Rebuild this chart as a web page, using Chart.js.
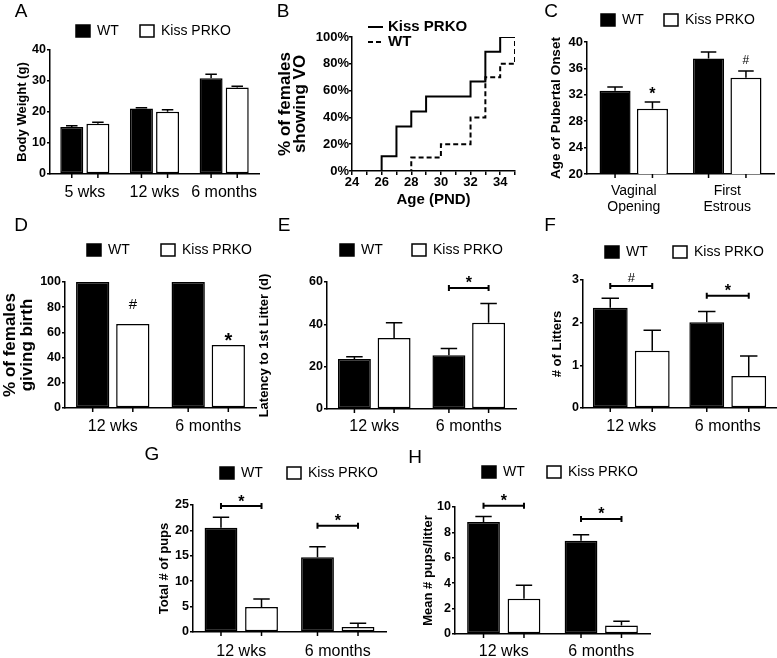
<!DOCTYPE html>
<html>
<head>
<meta charset="utf-8">
<script src="https://cdn.jsdelivr.net/npm/chart.js@4.4.1/dist/chart.umd.min.js"></script>
<style>
  html, body { margin: 0; padding: 0; background: #fff; }
  #fig { position: relative; width: 777px; height: 658px; overflow: hidden; }
  #fig canvas { position: absolute; left: 0; top: 0; }
</style>
</head>
<body>
<div id="fig">
  <canvas id="panelA" width="777" height="658"></canvas>
  <canvas id="panelB" width="777" height="658"></canvas>
  <canvas id="panelC" width="777" height="658"></canvas>
  <canvas id="panelD" width="777" height="658"></canvas>
  <canvas id="panelE" width="777" height="658"></canvas>
  <canvas id="panelF" width="777" height="658"></canvas>
  <canvas id="panelG" width="777" height="658"></canvas>
  <canvas id="panelH" width="777" height="658"></canvas>
</div>
<script>
// A - peso corporal
const ageGroups = ['5 wks', '12 wks', '6 months'];
const wtWeight = [15.2, 21.1, 30.9];
const wtWeightSem = [0.4, 0.3, 1.3];
const koWeight = [16.2, 20.1, 27.9];
const koWeightSem = [0.5, 0.6, 0.4];

// B - apertura vaginal acumulada (dias PND / % de hembras)
const koVoDay = [24, 26, 27, 28, 29, 32, 33, 34, 35];
const koVoPct = [0, 11.1, 33.3, 44.4, 55.6, 66.7, 88.9, 100, 100];
const wtVoDay = [24, 28, 30, 32, 33, 34, 35];
const wtVoPct = [0, 10, 20, 40, 70, 80, 100];

// C - edad de inicio puberal
const pubertyMarkers = [['Vaginal', 'Opening'], ['First', 'Estrous']];
const wtPubertyAge = [32.6, 37.5];
const wtPubertySem = [0.6, 1.0];
const koPubertyAge = [29.9, 34.6];
const koPubertySem = [1.0, 1.0];
const pubertySig = ['*', '#'];

// D..H - fertilidad
const matingAges = ['12 wks', '6 months'];
const wtBirthPct = [100, 100];
const koBirthPct = [66.7, 50];
const birthSig = ['#', '*'];

const wtLatency = [23.6, 25.4];
const wtLatencySem = [1.1, 3.2];
const koLatency = [33.6, 40.8];
const koLatencySem = [7.2, 9.0];
const latencySig = [null, '*'];
const latencySigLevel = [null, 57.2];

const wtLitters = [2.35, 2.01];
const wtLittersSem = [0.22, 0.25];
const koLitters = [1.34, 0.75];
const koLittersSem = [0.48, 0.47];
const littersSig = ['#', '*'];
const littersSigLevel = [2.86, 2.63];

const wtPups = [20.5, 14.7];
const wtPupsSem = [2.1, 2.1];
const koPups = [4.9, 1.0];
const koPupsSem = [1.6, 0.7];
const pupsSig = ['*', '*'];
const pupsSigLevel = [24.8, 20.9];

const wtPupsLitter = [8.82, 7.35];
const wtPupsLitterSem = [0.44, 0.47];
const koPupsLitter = [2.78, 0.66];
const koPupsLitterSem = [1.05, 0.34];
const pupsLitterSig = ['*', '*'];
const pupsLitterSigLevel = [10.1, 9.06];

const W = 777, H = 658;
const FONT = "'Liberation Sans', Arial, Helvetica, sans-serif";
Chart.defaults.font.family = FONT;
Chart.defaults.color = '#000';

// centra el glifo en cy (el * queda alto en su caja)
function drawSymbol(ctx, s, x, cy, font) {
    ctx.font = font;
    ctx.textAlign = 'center';
    ctx.textBaseline = 'alphabetic';
    const m = ctx.measureText(s);
    ctx.fillText(s, x, cy + (m.actualBoundingBoxAscent - m.actualBoundingBoxDescent) / 2);
}

// Estilo Prism: barras de error, leyenda, letra del panel, corchetes
const prismDecor = {
    id: 'prism',
    afterDatasetsDraw(chart, args, o) {
        const ctx = chart.ctx, ys = chart.scales.y;
        ctx.save();
        ctx.strokeStyle = '#000';
        ctx.lineWidth = 1.5;
        (o.errors || []).forEach((sem, di) => {
            if (!sem) return;
            const vals = chart.data.datasets[di].data;
            chart.getDatasetMeta(di).data.forEach((bar, i) => {
                const top = ys.getPixelForValue(vals[i] + sem[i]);
                const half = bar.width * 0.25;
                ctx.beginPath();
                ctx.moveTo(bar.x, bar.y);
                ctx.lineTo(bar.x, top);
                ctx.moveTo(bar.x - half, top);
                ctx.lineTo(bar.x + half, top);
                ctx.stroke();
            });
        });
        ctx.restore();
    },
    afterDraw(chart, args, o) {
        const ctx = chart.ctx, ys = chart.scales.y, area = chart.chartArea;
        ctx.save();
        ctx.fillStyle = '#000';
        ctx.strokeStyle = '#000';
        ctx.lineWidth = 1.5;

        if (o.letter) {
            ctx.font = '19px ' + FONT;
            ctx.textAlign = 'center';
            ctx.textBaseline = 'middle';
            ctx.fillText(o.letter.text, o.letter.x, o.letter.y);
        }

        if (o.legend) {
            const lg = o.legend;
            lg.items.forEach(it => {
                const ds = chart.data.datasets[it.dataset];
                ctx.font = lg.font;
                ctx.textAlign = 'left';
                ctx.textBaseline = 'middle';
                if (lg.lines) {
                    ctx.save();
                    ctx.lineWidth = 2;
                    ctx.setLineDash(ds.borderDash || []);
                    ctx.beginPath();
                    ctx.moveTo(it.x, it.y);
                    ctx.lineTo(it.x + 15, it.y);
                    ctx.stroke();
                    ctx.restore();
                    ctx.fillText(ds.label, it.x + 20, it.y);
                } else {
                    ctx.fillStyle = ds.backgroundColor;
                    ctx.fillRect(it.x, it.y - 6, 14, 12);
                    ctx.strokeRect(it.x, it.y - 6, 14, 12);
                    ctx.fillStyle = '#000';
                    ctx.fillText(ds.label, it.x + 21, it.y);
                }
            });
        }

        if (o.barTicks) {
            chart.data.datasets.forEach((ds, di) => {
                chart.getDatasetMeta(di).data.forEach(bar => {
                    ctx.beginPath();
                    ctx.moveTo(bar.x, area.bottom);
                    ctx.lineTo(bar.x, area.bottom + 4);
                    ctx.stroke();
                });
            });
        }

        if (o.marks) {
            const m = o.marks;
            const ds = chart.data.datasets[m.dataset];
            const sem = o.errors && o.errors[m.dataset];
            chart.getDatasetMeta(m.dataset).data.forEach((bar, i) => {
                const s = m.labels[i];
                if (!s) return;
                const v = ds.data[i] + (sem ? sem[i] : 0);
                drawSymbol(ctx, s, bar.x, ys.getPixelForValue(v) - m.gaps[i], o.symbolFonts[s]);
            });
        }

        if (o.brackets) {
            const b = o.brackets;
            ctx.lineWidth = 2;
            b.levels.forEach((lv, i) => {
                if (lv == null) return;
                const a = chart.getDatasetMeta(0).data[i];
                const c = chart.getDatasetMeta(1).data[i];
                const yy = ys.getPixelForValue(lv);
                ctx.beginPath();
                ctx.moveTo(a.x, yy); ctx.lineTo(c.x, yy);
                ctx.moveTo(a.x, yy - 3); ctx.lineTo(a.x, yy + 3);
                ctx.moveTo(c.x, yy - 3); ctx.lineTo(c.x, yy + 3);
                ctx.stroke();
                drawSymbol(ctx, b.labels[i], (a.x + c.x) / 2, yy - 8, o.symbolFonts[b.labels[i]]);
            });
        }
        ctx.restore();
    }
};

const defaultSymbols = { '*': 'bold 16px ' + FONT, '#': '13px ' + FONT };

// Panel de barras WT / Kiss PRKO
function barPanel(canvasId, p) {
    const titleLh = p.titleLineHeight || p.titleSize * 1.2;
    const padLeft = p.titleX - titleLh / 2;
    return new Chart(document.getElementById(canvasId), {
        type: 'bar',
        data: {
            labels: p.labels,
            datasets: [
                { label: 'WT', data: p.wt, backgroundColor: '#000', borderColor: '#000', borderWidth: 1.5, borderSkipped: false },
                { label: 'Kiss PRKO', data: p.ko, backgroundColor: '#fff', borderColor: '#000', borderWidth: 1.5, borderSkipped: false }
            ]
        },
        options: {
            responsive: false,
            animation: false,
            devicePixelRatio: 1,
            events: [],
            layout: { padding: { left: padLeft, top: p.box.top, right: W - p.box.right, bottom: H - p.box.bottom - 40 } },
            datasets: { bar: { categoryPercentage: p.catPct, barPercentage: p.barPct } },
            scales: {
                x: {
                    grid: { display: false, drawTicks: false },
                    border: { display: true, color: '#000', width: 1.5 },
                    ticks: {
                        color: '#000', autoSkip: false, maxRotation: 0,
                        padding: p.labelPad,
                        font: { size: p.catSize || 16, lineHeight: p.catLineHeight || 1.2 }
                    },
                    afterFit: s => { s.height = 40; }
                },
                y: {
                    min: p.yMin, max: p.yMax,
                    ticks: {
                        stepSize: p.step, color: '#000', padding: 1,
                        font: { size: p.tickSize || 12.5, weight: 'bold' },
                        callback: p.tickCallback || (v => v)
                    },
                    grid: { drawOnChartArea: false, drawTicks: true, tickLength: 3, color: '#000', lineWidth: 1.5 },
                    border: { color: '#000', width: 1.5 },
                    title: {
                        display: true, text: p.yTitle, color: '#000', padding: 0,
                        font: { size: p.titleSize, weight: 'bold', lineHeight: titleLh + 'px' }
                    },
                    afterFit: s => { s.width = p.box.left - padLeft; }
                }
            },
            plugins: {
                legend: { display: false },
                tooltip: { enabled: false },
                prism: {
                    letter: p.letter,
                    legend: { font: '14px ' + FONT, items: [
                        { dataset: 0, x: p.legendX[0], y: p.legendY },
                        { dataset: 1, x: p.legendX[1], y: p.legendY }
                    ] },
                    errors: p.errors,
                    barTicks: true,
                    marks: p.marks,
                    brackets: p.brackets,
                    symbolFonts: p.symbolFonts || defaultSymbols
                }
            }
        },
        plugins: [prismDecor]
    });
}

// A
barPanel('panelA', {
    labels: ageGroups, wt: wtWeight, ko: koWeight, errors: [wtWeightSem, koWeightSem],
    box: { left: 50, right: 259, top: 50, bottom: 174 },
    yMin: 0, yMax: 40, step: 10,
    yTitle: 'Body Weight (g)', titleSize: 13, titleX: 22,
    labelPad: 9.4, catPct: 0.75, barPct: 0.88,
    letter: { text: 'A', x: 21, y: 12 }, legendY: 31, legendX: [76, 140]
});

// B - curva escalonada
(function () {
    const padLeft = 285 - 7.5;
    new Chart(document.getElementById('panelB'), {
        type: 'line',
        data: {
            datasets: [
                {
                    label: 'Kiss PRKO',
                    data: koVoDay.map((d, i) => ({ x: d, y: koVoPct[i] })),
                    borderColor: '#000', borderWidth: 2, stepped: true, pointRadius: 0, fill: false
                },
                {
                    label: 'WT',
                    data: wtVoDay.map((d, i) => ({ x: d, y: wtVoPct[i] })),
                    borderColor: '#000', borderWidth: 2, borderDash: [5, 3], stepped: true, pointRadius: 0, fill: false
                }
            ]
        },
        options: {
            responsive: false,
            animation: false,
            devicePixelRatio: 1,
            events: [],
            layout: { padding: { left: padLeft, top: 37, right: W - 515, bottom: H - 171 - 38 } },
            scales: {
                x: {
                    type: 'linear', min: 24, max: 35,
                    ticks: {
                        stepSize: 1, autoSkip: false, maxRotation: 0, padding: 0, color: '#000',
                        font: { size: 13, weight: 'bold' },
                        callback: v => (v % 2 === 0 ? v : '')
                    },
                    grid: { drawOnChartArea: false, tickLength: 4, color: '#000', lineWidth: 1.5 },
                    border: { color: '#000', width: 1.5 },
                    title: { display: true, text: 'Age (PND)', color: '#000', padding: 0, font: { size: 15, weight: 'bold' } },
                    afterFit: s => { s.height = 38; }
                },
                y: {
                    min: 0, max: 100,
                    ticks: { stepSize: 20, padding: 0, color: '#000', font: { size: 13, weight: 'bold' }, callback: v => v + '%' },
                    grid: { drawOnChartArea: false, tickLength: 3, color: '#000', lineWidth: 1.5 },
                    border: { color: '#000', width: 1.5 },
                    title: {
                        display: true, text: ['% of females', 'showing VO'], color: '#000', padding: 0,
                        font: { size: 17, weight: 'bold', lineHeight: '15px' }
                    },
                    afterFit: s => { s.width = 352 - padLeft; }
                }
            },
            plugins: {
                legend: { display: false },
                tooltip: { enabled: false },
                prism: {
                    letter: { text: 'B', x: 283, y: 12 },
                    legend: { lines: true, font: 'bold 15px ' + FONT, items: [
                        { dataset: 0, x: 368, y: 27 },
                        { dataset: 1, x: 368, y: 42 }
                    ] }
                }
            }
        },
        plugins: [prismDecor]
    });
})();

// C
barPanel('panelC', {
    labels: pubertyMarkers, wt: wtPubertyAge, ko: koPubertyAge, errors: [wtPubertySem, koPubertySem],
    box: { left: 587, right: 774, top: 42, bottom: 174 },
    yMin: 20, yMax: 40, step: 2, tickSize: 13,
    tickCallback: v => (v % 4 === 0 ? v : ''),
    yTitle: 'Age of Pubertal Onset', titleSize: 13.5, titleX: 556,
    labelPad: 9, catSize: 14, catLineHeight: '16px', catPct: 0.80, barPct: 0.83,
    letter: { text: 'C', x: 551, y: 12 }, legendY: 20, legendX: [601, 664],
    marks: { dataset: 1, labels: pubertySig, gaps: [12, 12] },
    symbolFonts: { '*': 'bold 16px ' + FONT, '#': '12px ' + FONT }
});

// D
barPanel('panelD', {
    labels: matingAges, wt: wtBirthPct, ko: koBirthPct,
    box: { left: 65, right: 256, top: 282, bottom: 408 },
    yMin: 0, yMax: 100, step: 20,
    yTitle: ['% of females', 'giving birth'], titleSize: 17, titleLineHeight: 17, titleX: 10,
    labelPad: 9.4, catPct: 0.84, barPct: 0.83,
    letter: { text: 'D', x: 21, y: 226 }, legendY: 250, legendX: [87, 161],
    marks: { dataset: 1, labels: birthSig, gaps: [20, 8] },
    symbolFonts: { '*': 'bold 20px ' + FONT, '#': '15px ' + FONT }
});

// E
barPanel('panelE', {
    labels: matingAges, wt: wtLatency, ko: koLatency, errors: [wtLatencySem, koLatencySem],
    box: { left: 327, right: 516, top: 282, bottom: 409 },
    yMin: 0, yMax: 60, step: 20,
    yTitle: 'Latency to 1st Litter (d)', titleSize: 13, titleX: 264,
    labelPad: 8.4, catPct: 0.84, barPct: 0.83,
    letter: { text: 'E', x: 284, y: 226 }, legendY: 250, legendX: [340, 412],
    brackets: { levels: latencySigLevel, labels: latencySig }
});

// F
barPanel('panelF', {
    labels: matingAges, wt: wtLitters, ko: koLitters, errors: [wtLittersSem, koLittersSem],
    box: { left: 583, right: 776, top: 280, bottom: 408 },
    yMin: 0, yMax: 3, step: 1,
    yTitle: '# of Litters', titleSize: 13, titleX: 557,
    labelPad: 9.4, catPct: 0.87, barPct: 0.83,
    letter: { text: 'F', x: 550, y: 226 }, legendY: 252, legendX: [605, 673],
    brackets: { levels: littersSigLevel, labels: littersSig }
});

// G
barPanel('panelG', {
    labels: matingAges, wt: wtPups, ko: koPups, errors: [wtPupsSem, koPupsSem],
    box: { left: 193, right: 386, top: 505, bottom: 632 },
    yMin: 0, yMax: 25, step: 5,
    yTitle: 'Total # of pups', titleSize: 13, titleX: 164,
    labelPad: 10.4, catPct: 0.84, barPct: 0.81,
    letter: { text: 'G', x: 152, y: 455 }, legendY: 473, legendX: [220, 287],
    brackets: { levels: pupsSigLevel, labels: pupsSig }
});

// H
barPanel('panelH', {
    labels: matingAges, wt: wtPupsLitter, ko: koPupsLitter, errors: [wtPupsLitterSem, koPupsLitterSem],
    box: { left: 455, right: 650, top: 507, bottom: 634 },
    yMin: 0, yMax: 10, step: 2,
    yTitle: 'Mean # pups/litter', titleSize: 13, titleX: 428,
    labelPad: 8.4, catPct: 0.83, barPct: 0.81,
    letter: { text: 'H', x: 415, y: 458 }, legendY: 472, legendX: [482, 547],
    brackets: { levels: pupsLitterSigLevel, labels: pupsLitterSig }
});
</script>
</body>
</html>
